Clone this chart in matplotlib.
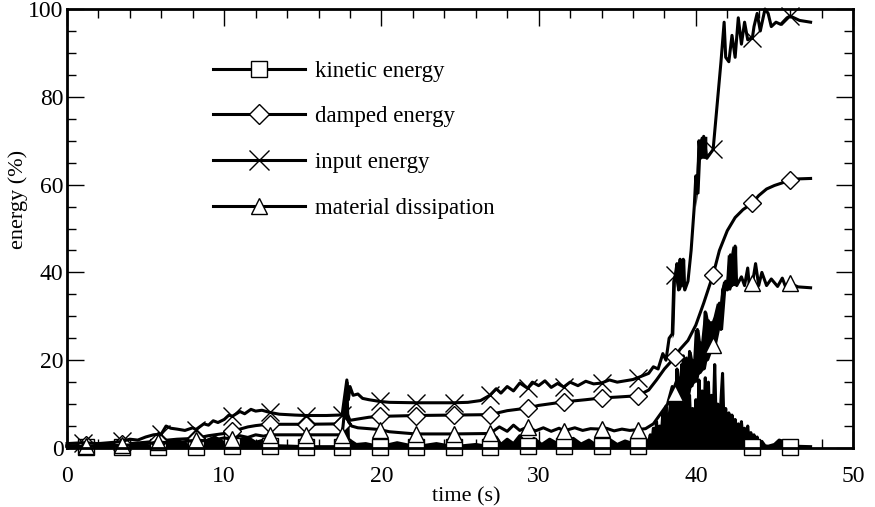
import numpy as np
import matplotlib
matplotlib.use("Agg")
import matplotlib.pyplot as plt
from matplotlib.ticker import MultipleLocator

plt.rcParams['font.family'] = ['Liberation Serif', 'DejaVu Serif']

# --- data: (time s, energy %) ---
input_pts = [
    (0, 1.0), (1, 1.2), (2, 1.0), (3, 1.3), (3.5, 1.5), (4, 2.0), (4.5, 1.8), (5, 2.5),
    (5.5, 3.0), (6, 3.2), (6.3, 5.0), (6.6, 4.5), (7, 4.3), (7.5, 4.0), (8, 4.6), (8.2, 4.2),
    (8.7, 5.5), (9, 5.2), (9.3, 6.2), (9.6, 5.8), (10, 6.5), (10.3, 7.5), (10.5, 7.2),
    (11, 8.3), (11.3, 7.8), (11.7, 8.8), (12, 8.4), (12.4, 8.6), (12.9, 8.1), (13.5, 7.7),
    (14.5, 7.5), (15.2, 7.4), (16.5, 7.4), (17.3, 7.5), (17.5, 7.6), (17.8, 15.5),
    (17.9, 11.0), (18.0, 14.0), (18.2, 12.0), (18.5, 12.3), (18.8, 11.3), (19.2, 11.0),
    (19.9, 10.6), (20.5, 10.4), (22.2, 10.3), (24.6, 10.3), (25.5, 10.4), (26.3, 10.8),
    (26.9, 12.0), (27.3, 13.5), (27.6, 12.5), (28, 14.0), (28.4, 13.0), (28.8, 14.8),
    (29.3, 13.6), (29.6, 15.0), (30, 14.2), (30.4, 15.3), (30.8, 13.8), (31.2, 14.7),
    (31.6, 13.9), (32, 15.0), (32.5, 14.2), (33, 15.2), (33.5, 14.6), (34, 14.8),
    (34.5, 15.5), (35, 15.0), (35.5, 15.3), (36, 15.6), (36.3, 16.0), (37, 17.0),
    (37.3, 18.5), (37.6, 18.0), (37.9, 21.5), (38.1, 20.0), (38.3, 25.0), (38.5, 26.0),
    (38.6, 38.0), (38.7, 39.5), (38.8, 42.0), (38.9, 36.0), (39.0, 43.0), (39.1, 37.0),
    (39.2, 43.0), (39.3, 36.0), (39.5, 38.0), (39.7, 45.0), (39.9, 55.0), (40.0, 62.0),
    (40.1, 58.0), (40.2, 70.0), (40.3, 66.0), (40.5, 71.0), (40.7, 66.0), (41.1, 68.0),
    (41.4, 80.0), (41.6, 88.0), (41.8, 97.0), (41.9, 89.0), (42.1, 88.0), (42.3, 94.0),
    (42.5, 89.0), (42.7, 98.0), (42.9, 92.0), (43.1, 97.0), (43.3, 93.0), (43.6, 93.5),
    (43.7, 96.0), (43.9, 99.0), (44.1, 95.0), (44.4, 100.0), (44.6, 99.0), (44.8, 96.0),
    (45.1, 97.0), (45.4, 96.5), (45.8, 98.0), (46.0, 98.4), (46.6, 97.4), (47.3, 97.0),
]

damped_pts = [
    (0, 0.5), (1.2, 0.6), (2, 0.8), (3.5, 0.9), (4, 1.0), (5, 1.3), (5.8, 1.6), (7, 2.0),
    (8.2, 2.2), (9, 2.8), (10, 3.3), (10.5, 3.8), (11, 4.3), (11.5, 4.8), (12, 5.1),
    (12.5, 5.3), (12.9, 5.4), (15.2, 5.4), (17.5, 5.5), (17.8, 8.0), (18, 6.3), (18.5, 6.6),
    (19.2, 7.0), (19.9, 7.2), (22.2, 7.4), (24.6, 7.5), (26.9, 7.6), (28, 8.5), (29.3, 9.1),
    (30, 9.7), (31, 10.2), (31.6, 10.5), (33, 11.0), (34.0, 11.4), (35, 11.6), (36.3, 11.9),
    (37, 13.2), (37.5, 15.5), (38, 18.0), (38.7, 20.8), (39, 22.5), (39.5, 24.5), (40, 28.0),
    (40.5, 33.0), (41.1, 39.5), (41.5, 45.0), (42, 49.5), (42.5, 52.5), (43, 54.3),
    (43.6, 55.8), (44, 57.5), (44.5, 59.0), (45, 59.8), (45.5, 60.4), (46.0, 61.0),
    (46.5, 61.3), (47.3, 61.4),
]

material_pts = [
    (0, 0.3), (1.2, 0.4), (2, 0.5), (3.5, 0.6), (4, 0.7), (5, 1.0), (5.8, 1.3), (7, 1.2),
    (8.2, 1.8), (9, 1.6), (10, 2.3), (10.5, 2.0), (11, 2.8), (11.5, 2.4), (12, 3.0),
    (12.5, 2.7), (12.9, 3.0), (15.2, 3.0), (17.5, 3.0), (17.7, 10.0), (17.9, 6.0),
    (18.1, 5.0), (18.5, 4.6), (19.9, 4.2), (20.5, 3.7), (21.5, 3.4), (22.2, 3.2),
    (24.6, 3.2), (26.9, 3.3), (27.5, 4.8), (28, 3.8), (28.4, 5.2), (28.8, 4.0), (29.3, 4.8),
    (29.8, 3.9), (30.3, 4.6), (30.8, 3.8), (31.3, 4.5), (31.6, 3.9), (32.3, 4.6),
    (32.8, 4.0), (33.3, 4.4), (34.0, 4.3), (34.3, 4.5), (34.8, 3.9), (35.3, 4.3),
    (35.8, 4.0), (36.3, 4.2), (36.8, 4.4), (37.3, 5.5), (37.8, 8.0), (38.2, 10.0),
    (38.5, 14.0), (38.7, 12.5), (38.9, 16.0), (39.0, 11.0), (39.1, 19.0), (39.2, 13.0),
    (39.3, 17.0), (39.5, 12.0), (39.6, 22.0), (39.7, 14.0), (39.8, 20.0), (39.9, 15.0),
    (40.1, 27.0), (40.2, 17.0), (40.3, 24.0), (40.5, 18.0), (40.6, 31.0), (40.7, 20.0),
    (40.8, 29.0), (41.0, 22.0), (41.1, 23.5), (41.3, 30.0), (41.5, 33.0), (41.6, 27.0),
    (41.7, 36.0), (41.9, 38.0), (42.0, 36.0), (42.2, 44.0), (42.3, 37.0), (42.5, 46.0),
    (42.6, 37.0), (42.9, 39.0), (43.1, 37.0), (43.3, 41.0), (43.4, 37.0), (43.6, 37.5),
    (43.8, 42.0), (44.0, 37.0), (44.2, 40.0), (44.5, 37.0), (44.8, 38.5), (45.2, 36.8),
    (45.5, 38.7), (45.7, 36.8), (46.0, 37.5), (46.5, 36.7), (47.3, 36.5),
]

kinetic_pts = [
    (0, 0.4), (1.2, 0.2), (2, 0.6), (3, 0.3), (3.5, 0.3), (4.5, 0.8), (5.2, 0.5), (5.8, 0.3),
    (6.4, 1.2), (7, 1.8), (7.6, 0.8), (8.2, 0.3), (8.8, 1.6), (9.4, 2.5), (10, 1.2),
    (10.5, 0.4), (11, 2.0), (11.5, 2.4), (12, 1.3), (12.5, 1.8), (12.9, 0.4), (13.5, 0.5),
    (15.2, 0.3), (17.5, 0.3), (17.7, 6.0), (17.8, 15.0), (17.9, 2.0), (18.1, 1.5),
    (18.4, 0.8), (19, 1.0), (19.9, 0.3), (21, 1.2), (22.2, 0.3), (23.5, 1.0), (24.6, 0.3),
    (26, 0.8), (26.9, 0.3), (27.3, 2.5), (27.6, 0.8), (28, 2.0), (28.4, 1.0), (28.8, 2.8),
    (29.3, 0.4), (29.7, 2.2), (30.2, 0.8), (30.7, 2.0), (31.2, 1.0), (31.6, 0.4),
    (32.2, 2.2), (32.7, 0.9), (33.2, 1.8), (33.6, 0.8), (34.0, 0.4), (34.5, 2.0),
    (35, 0.8), (35.5, 1.6), (36, 1.0), (36.3, 0.4), (36.8, 2.0),
    (37.0, 1.5), (37.1, 3.0), (37.2, 1.0), (37.3, 4.5), (37.4, 2.0), (37.5, 6.0),
    (37.6, 1.5), (37.7, 5.0), (37.8, 2.5), (37.9, 8.0), (38.0, 3.0), (38.1, 9.5),
    (38.2, 2.0), (38.3, 7.0), (38.4, 11.0), (38.5, 4.0), (38.6, 13.0), (38.7, 3.0),
    (38.8, 18.0), (38.9, 6.0), (39.0, 15.0), (39.1, 4.0), (39.2, 21.0), (39.3, 8.0),
    (39.4, 20.5), (39.5, 5.0), (39.6, 12.0), (39.7, 3.0), (39.8, 9.0), (39.9, 2.0),
    (40.0, 11.0), (40.1, 4.0), (40.2, 15.5), (40.3, 6.0), (40.4, 13.0), (40.5, 5.0),
    (40.6, 16.0), (40.7, 8.0), (40.8, 15.0), (40.9, 4.0), (41.0, 12.0), (41.1, 6.0),
    (41.2, 19.0), (41.3, 5.0), (41.4, 10.0), (41.5, 3.0), (41.6, 11.0), (41.7, 17.0),
    (41.8, 4.0), (41.9, 9.0), (42.0, 2.5), (42.1, 8.0), (42.2, 3.0), (42.3, 7.5),
    (42.4, 2.0), (42.5, 6.5), (42.6, 2.5), (42.7, 5.5), (42.8, 1.5), (42.9, 6.0),
    (43.0, 2.0), (43.1, 4.5), (43.2, 1.5), (43.3, 5.0), (43.4, 1.0), (43.5, 3.5),
    (43.6, 0.3), (43.7, 3.0), (43.8, 1.0), (43.9, 2.5), (44.0, 0.8), (44.2, 1.5),
    (44.4, 0.5), (44.6, 0.4), (45.0, 0.8), (45.3, 1.8), (45.6, 1.5), (46.0, 0.3),
    (46.3, 0.4), (47.3, 0.3),
]

marker_times = [1.2, 3.5, 5.8, 8.2, 10.5, 12.9, 15.2, 17.5, 19.9, 22.2, 24.6, 26.9,
                29.3, 31.6, 34.0, 36.3, 38.7, 41.1, 43.6, 46.0]
# the squares at 38.7 s and 41.1 s are buried in the black mass in the original
kinetic_marker_times = [m for m in marker_times if m not in (38.7, 41.1)]

series = [
    ("kinetic energy", kinetic_pts, "s", 11, kinetic_marker_times),
    ("damped energy", damped_pts, "D", 9, marker_times),
    ("input energy", input_pts, "x", 13, marker_times),
    ("material dissipation", material_pts, "^", 11, marker_times),
]


def marker_idx(t, times):
    t = np.asarray(t)
    return [int(np.argmin(np.abs(t - m))) for m in times if m <= t[-1] + 0.1]


def noise_band(ax, pts, t0, t1):
    # fast oscillation prints as a solid band: fill between local min and max
    t, e = map(np.asarray, zip(*pts))
    lo = np.minimum(np.minimum(e, np.roll(e, 1)), np.roll(e, -1))
    hi = np.maximum(np.maximum(e, np.roll(e, 1)), np.roll(e, -1))
    m = (t >= t0) & (t <= t1)
    ax.fill_between(t[m], lo[m], hi[m], color="black", lw=0, zorder=1.5)


fig = plt.figure(figsize=(8.75, 5.07), dpi=100)
ax = fig.add_axes([0.0766, 0.1164, 0.8983, 0.8658])

kt, ke = zip(*kinetic_pts)
ax.fill_between(kt, 0, ke, color="black", lw=0, zorder=1.5)
noise_band(ax, material_pts, 38.4, 42.7)
noise_band(ax, input_pts, 38.5, 39.4)
noise_band(ax, input_pts, 40.0, 40.8)

for label, pts, mk, ms, mtimes in series:
    t, e = zip(*pts)
    ax.plot(t, e, color="black", lw=2.2, marker=mk, ms=ms, mew=1.0,
            mfc="white" if mk != "x" else "black", mec="black",
            markevery=marker_idx(t, mtimes), label=label, clip_on=False)

ax.set_xlim(0, 50)
ax.set_ylim(0, 100)
ax.xaxis.set_major_locator(MultipleLocator(10))
ax.xaxis.set_minor_locator(MultipleLocator(2))
ax.yaxis.set_major_locator(MultipleLocator(20))
ax.yaxis.set_minor_locator(MultipleLocator(5))
ax.tick_params(which="both", direction="in", top=True, right=True, width=1.0)
ax.tick_params(which="major", length=12, labelsize=17)
ax.tick_params(which="minor", length=6.5)
ax.tick_params(axis="x", pad=13)
ax.tick_params(axis="y", pad=2.5)
for s in ax.spines.values():
    s.set_linewidth(2.0)

ax.set_xlabel("time (s)", fontsize=16)
ax.set_ylabel("energy (%)", fontsize=16)
ax.xaxis.set_label_coords(0.5076, -0.09)
ax.yaxis.set_label_coords(-0.05, 0.567)

leg = ax.legend(loc="upper left", bbox_to_anchor=(0.160, 0.929), frameon=False,
                fontsize=16.5, handlelength=4.0, labelspacing=1.07, handletextpad=0.44,
                markerscale=1.1)

fig.savefig("out.png", dpi=100)
